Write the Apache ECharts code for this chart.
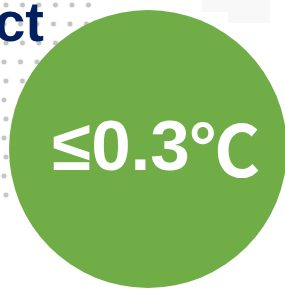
<!DOCTYPE html>
<html>
<head>
<meta charset="utf-8">
<script src="https://cdn.jsdelivr.net/npm/echarts@6/dist/echarts.min.js"></script>
<style>
  html, body { margin: 0; padding: 0; background: #fff; }
  #main { width: 285px; height: 289px; }
</style>
</head>
<body>
<div id="main"></div>
<script>
// data
var headingText = 'ct';
var circleNames = ['≤0.3℃'];
var circleValues = [1];

var chart = echarts.init(document.getElementById('main'));

// halftone dots behind the circle (decoration)
var dots = [];
for (var row = 0; row < 11; row++) {
  for (var col = 0; col < 6; col++) {
    dots.push({
      type: 'circle',
      z: 0,
      shape: { cx: 4 + col * 16.5 + (row % 2 ? 0 : 2), cy: 5 + row * 19, r: 2.3 },
      style: { fill: '#c4c4c4', shadowBlur: 2, shadowColor: '#c4c4c4' },
      silent: true
    });
  }
}

// split the label so the degree sign can use a narrower CJK glyph
function circleLabel(name) {
  var i = name.indexOf('℃');
  if (i < 0) return '{a|' + name + '}';
  return '{a|' + name.slice(0, i) + '}{b|℃}';
}

var option = {
  backgroundColor: '#fff',
  animation: false,
  graphic: dots.concat([
    { type: 'rect', z: 0, silent: true, shape: { x: 202, y: 0, width: 68, height: 12 }, style: { fill: '#f8f8f8' } },
    { type: 'rect', z: 0, silent: true, shape: { x: 228, y: 12, width: 42, height: 11 }, style: { fill: '#f8f8f8' } },
    {
      type: 'text',
      z: 1,
      x: 44,
      y: 26,
      silent: true,
      style: {
        text: headingText,
        fill: '#002060',
        font: 'bold 56px "Liberation Sans", Arial, sans-serif',
        textAlign: 'right',
        textVerticalAlign: 'middle'
      }
    }
  ]),
  series: [
    {
      type: 'pie',
      z: 5,
      silent: true,
      center: [148, 149],
      radius: [0, 139],
      startAngle: 90,
      itemStyle: { color: '#70ad47', borderWidth: 0 },
      label: {
        show: true,
        position: 'center',
        formatter: function (p) { return circleLabel(p.name); },
        offset: [8, 1],
        rich: {
          a: {
            color: '#fff',
            fontWeight: 'bold',
            fontSize: 71,
            fontFamily: '"Liberation Sans", sans-serif'
          },
          b: {
            color: '#fff',
            fontWeight: 'bold',
            fontSize: 70,
            fontFamily: '"Noto Sans CJK SC", sans-serif'
          }
        }
      },
      labelLine: { show: false },
      emphasis: { disabled: true },
      data: circleNames.map(function (n, i) { return { name: n, value: circleValues[i] }; })
    }
  ]
};

chart.setOption(option);
</script>
</body>
</html>
